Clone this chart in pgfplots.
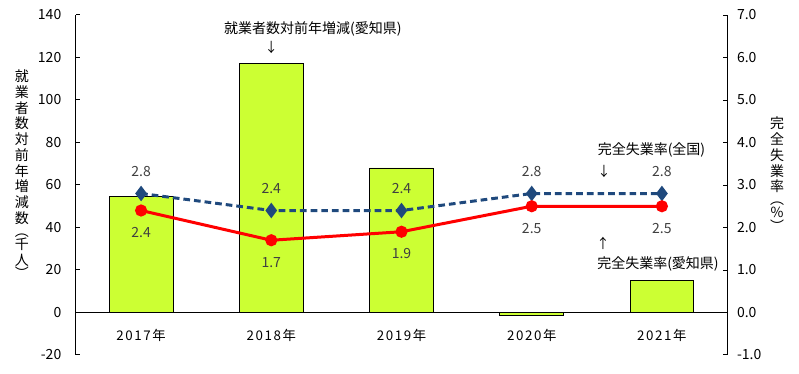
\documentclass[border=0pt]{standalone}
\usepackage{fontspec}
\setmainfont{Noto Sans CJK JP}
\newfontfamily\spaced[LetterSpace=12]{Noto Sans CJK JP}
\usepackage{pgfplots}
\pgfplotsset{compat=1.18}
\definecolor{barfill}{RGB}{204,255,51}
\definecolor{natblue}{RGB}{31,73,125}
\definecolor{lbl}{RGB}{64,64,64}
\begin{document}
\begin{tikzpicture}
\useasboundingbox (-57pt,-14.25pt) rectangle (542.25pt,266.25pt);
\begin{axis}[
  at={(0,0)}, anchor=south west,
  scale only axis, width=488.25pt, height=255pt,
  xmin=-0.5, xmax=4.5, ymin=-20, ymax=140,
  ytick={-20,0,20,40,60,80,100,120,140},
  axis y line*=left, axis x line*=bottom,
  x axis line style={draw=none},
  y axis line style={-, black, line width=0.75pt},
  xtick={0,1,2,3,4},
  xticklabels={2017年,2018年,2019年,2020年,2021年},
  xtick style={draw=none},
  ytick style={black, line width=0.75pt},
  tick align=inside, major tick length=3pt,
  xticklabel style={yshift=23pt, font=\spaced\fontsize{10}{12}\selectfont},
  yticklabel style={font=\fontsize{10.5}{12}\selectfont, xshift=-7.5pt},
  /pgf/number format/assume math mode=true,
  clip=false,
]
\addplot[ybar, bar width=0.49, fill=barfill, draw=black, line width=0.6pt]
  coordinates {(0,54.5) (1,117) (2,68) (3,-1.5) (4,15)};
\draw[black, line width=0.75pt] (axis cs:-0.5,0) -- (axis cs:4.5,0);
\node[font=\fontsize{10.5}{12}\selectfont] at (axis cs:1.32,133.2) {就業者数対前年増減(愛知県)};
\node[font=\fontsize{10}{12}\selectfont] at (axis cs:1.0,124.7) {↓};
\node[font=\fontsize{10.5}{12}\selectfont] at (axis cs:3.92,76.7) {完全失業率(全国)};
\node[font=\fontsize{10}{12}\selectfont] at (axis cs:3.555,66.4) {↓};
\node[font=\fontsize{10.5}{12}\selectfont] at (axis cs:3.97,22.6) {完全失業率(愛知県)};
\node[font=\fontsize{10}{12}\selectfont] at (axis cs:3.548,32.5) {↑};
\node[font=\fontsize{10.5}{11.8}\selectfont, align=center] at (rel axis cs:-0.083,0.532)
  {就\\業\\者\\数\\対\\前\\年\\増\\減\\数\\[-2pt]︵\\[-2pt]千\\人\\[-2pt]︶};
\node[font=\fontsize{10.5}{11.8}\selectfont, align=center] at (rel axis cs:1.077,0.532)
  {完\\全\\失\\業\\率\\[-2pt]︵\\[-2pt]\%\\[-2pt]︶};
\end{axis}
\begin{axis}[
  at={(0,0)}, anchor=south west,
  scale only axis, width=488.25pt, height=255pt,
  xmin=-0.5, xmax=4.5, ymin=-1, ymax=7,
  ytick={-1,0,1,2,3,4,5,6,7},
  axis y line*=right, axis x line=none,
  y axis line style={-, black, line width=0.75pt},
  ytick style={black, line width=0.75pt},
  tick align=inside, major tick length=3pt,
  yticklabel style={font=\fontsize{10.5}{12}\selectfont, xshift=4pt,
    /pgf/number format/.cd, fixed, fixed zerofill, precision=1},
  /pgf/number format/assume math mode=true,
  clip=false,
]
\addplot[natblue, line width=2.25pt, dash pattern=on 5pt off 3pt,
  mark=diamond*, mark size=4pt, mark options={solid, fill=natblue},
  nodes near coords={\pgfmathprintnumber[fixed,fixed zerofill,precision=1]{\pgfplotspointmeta}},
  every node near coord/.append style={anchor=center, yshift=16.5pt, text=lbl, font=\fontsize{10.5}{12}\selectfont}]
  coordinates {(0,2.8) (1,2.4) (2,2.4) (3,2.8) (4,2.8)};
\addplot[red, line width=2.25pt, mark=*, mark size=3.4pt, mark options={solid, fill=red},
  nodes near coords={\pgfmathprintnumber[fixed,fixed zerofill,precision=1]{\pgfplotspointmeta}},
  every node near coord/.append style={anchor=center, yshift=-16.5pt, text=lbl, font=\fontsize{10.5}{12}\selectfont}]
  coordinates {(0,2.4) (1,1.7) (2,1.9) (3,2.5) (4,2.5)};
\end{axis}
\end{tikzpicture}
\end{document}
